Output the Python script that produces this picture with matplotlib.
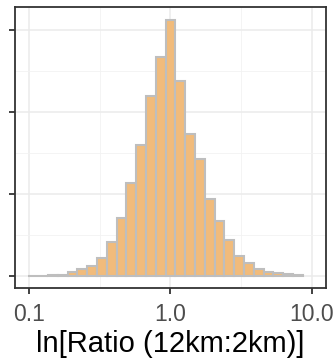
import numpy as np
import matplotlib.pyplot as plt
from matplotlib.ticker import FixedLocator, NullFormatter

# histogram of log10 ratio, bin index k -> centre k * bin_w
bin_w = 0.0693
bin_k = np.arange(-14, 14)
counts = [5, 5, 10, 15, 50, 85, 120, 215, 420, 705, 1140, 1600, 2195, 2670,
          3120, 2380, 1730, 1425, 945, 675, 440, 240, 155, 80, 55, 35, 30, 12]

x_ticks = [0.1, 1.0, 10.0]
x_labels = ["0.1", "1.0", "10.0"]
y_ticks = [0, 1000, 2000, 3000]

plt.rcParams['font.family'] = ['Liberation Sans', 'DejaVu Sans']

fig = plt.figure(figsize=(3.35, 3.63), dpi=100)
ax = fig.add_axes([0.0433, 0.2066, 0.9297, 0.7741])

left = 10 ** ((bin_k - 0.5) * bin_w)
right = 10 ** ((bin_k + 0.5) * bin_w)
ax.bar(left, counts, width=right - left, align='edge',
       color='#F1BB7B', edgecolor='#BEBEBE', linewidth=1.5, zorder=3)

ax.set_xscale('log')
ax.set_xlim(10 ** -1.1025, 10 ** 1.099)
ax.set_ylim(-146, 3280)

ax.xaxis.set_major_locator(FixedLocator(x_ticks))
ax.xaxis.set_minor_locator(FixedLocator([10 ** -0.5, 10 ** 0.5]))
ax.set_xticklabels(x_labels)
ax.xaxis.set_minor_formatter(NullFormatter())
ax.yaxis.set_major_locator(FixedLocator(y_ticks))
ax.yaxis.set_minor_locator(FixedLocator([500, 1500, 2500]))
ax.set_yticklabels([])

ax.grid(which='major', color='#EBEBEB', linewidth=1.1, zorder=0)
ax.grid(which='minor', color='#F2F2F2', linewidth=0.6, zorder=0)
ax.set_axisbelow(True)

for s in ax.spines.values():
    s.set_color('#333333')
    s.set_linewidth(1.3)

ax.tick_params(which='major', direction='out', length=4.5, width=1.3,
               color='#333333', labelsize=16.5, labelcolor='#4D4D4D', pad=6)
ax.tick_params(which='minor', length=0)

ax.set_xlabel("ln[Ratio (12km:2km)]", fontsize=21, color='black', labelpad=3)

fig.savefig('out.png', dpi=100)
